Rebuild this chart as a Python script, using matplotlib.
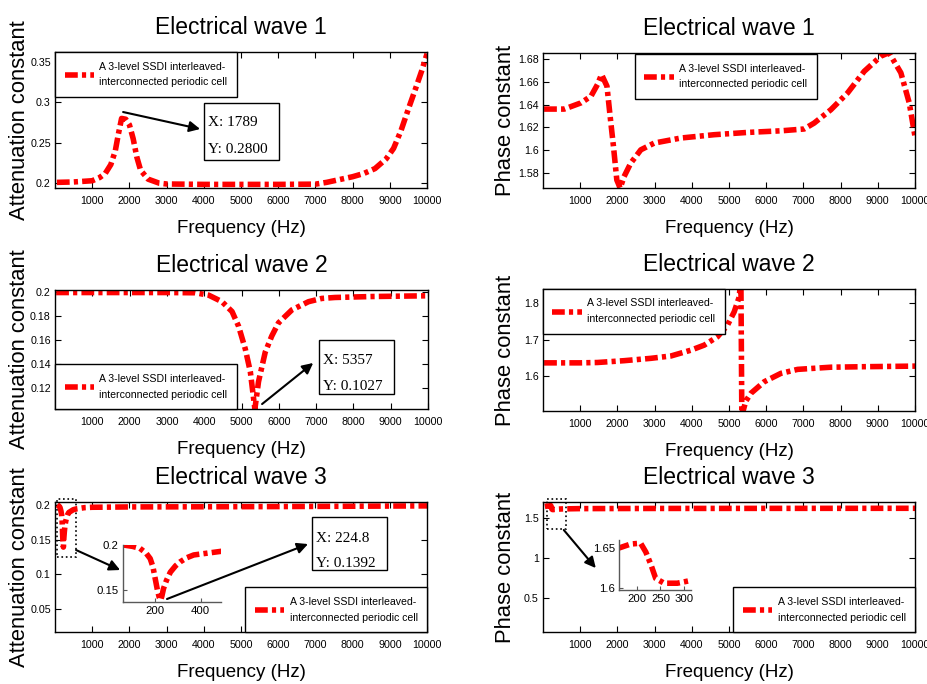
import matplotlib
matplotlib.use('Agg')
import matplotlib.pyplot as plt
from matplotlib.patches import Rectangle
from matplotlib.lines import Line2D
from matplotlib.ticker import FormatStrFormatter

# ---------------- data ----------------
freq_att1 = [50, 500, 1000, 1200, 1350, 1500, 1620, 1700, 1789, 1900, 2000, 2100, 2200, 2300,
             2500, 2800, 3000, 4000, 5000, 6000, 7000, 7300, 7600, 8000, 8300, 8600, 8900,
             9100, 9300, 9500, 9700, 9850, 10000]
att1 = [0.201, 0.2015, 0.203, 0.207, 0.212, 0.223, 0.240, 0.260, 0.280, 0.279, 0.272, 0.255,
        0.232, 0.216, 0.205, 0.200, 0.199, 0.1985, 0.1985, 0.1985, 0.1988, 0.201, 0.204, 0.208,
        0.212, 0.218, 0.230, 0.243, 0.265, 0.292, 0.318, 0.338, 0.360]

freq_ph1 = [30, 570, 1020, 1290, 1465, 1575, 1720, 1805, 1895, 1985, 2075, 2180, 2360, 2630,
            2990, 3705, 4600, 5500, 6395, 7020, 7290, 7740, 8185, 8635, 9085, 9300, 9620,
            9845, 10000]
ph1 = [1.636, 1.636, 1.6414, 1.6472, 1.6575, 1.6662, 1.656, 1.6297, 1.6033, 1.574, 1.567,
       1.577, 1.5888, 1.6004, 1.6063, 1.6107, 1.6136, 1.6156, 1.617, 1.6186, 1.6238, 1.6355,
       1.650, 1.669, 1.6823, 1.6853, 1.6677, 1.6414, 1.612]

freq_att2 = [30, 1000, 2000, 3000, 3760, 4120, 4475, 4745, 4920, 5100, 5235, 5357, 5455,
             5635, 5810, 5990, 6350, 6795, 7150, 7505, 8500, 10000]
att2 = [0.1995, 0.1995, 0.1995, 0.1995, 0.1993, 0.1973, 0.1919, 0.1837, 0.1715, 0.1526,
        0.1337, 0.1027, 0.1255, 0.150, 0.1634, 0.1743, 0.1851, 0.1919, 0.1946, 0.1954,
        0.1962, 0.1968]

freq_ph2 = [30, 500, 1000, 1465, 2180, 2900, 3440, 3975, 4335, 4690, 4960, 5140, 5275, 5320,
            5345, 5450, 5590, 5950, 6395, 6845, 7740, 8635, 10000]
ph2 = [1.636, 1.636, 1.636, 1.637, 1.642, 1.6485, 1.655, 1.671, 1.685, 1.708, 1.740, 1.777,
       1.818, 1.870, 1.490, 1.530, 1.552, 1.584, 1.607, 1.618, 1.624, 1.6254, 1.627]

freq_att3 = [60, 100, 133, 160, 178, 190, 200, 210, 218, 224.8, 230, 237, 250, 267, 290, 311,
             340, 370, 430, 490, 600, 800, 1000, 2000, 4000, 6000, 8000, 10000]
att3 = [0.2, 0.1985, 0.1963, 0.191, 0.185, 0.176, 0.163, 0.150, 0.142, 0.1392, 0.144, 0.152,
        0.161, 0.170, 0.177, 0.1815, 0.186, 0.189, 0.191, 0.193, 0.1945, 0.196, 0.1965, 0.197,
        0.1972, 0.1975, 0.198, 0.1985]

freq_ph3 = [50, 100, 162, 187, 208, 219, 230, 240, 258, 286, 311, 500, 1000, 3000, 6000, 10000]
ph3 = [1.645, 1.649, 1.650, 1.655, 1.656, 1.645, 1.629, 1.612, 1.606, 1.606, 1.609, 1.614,
       1.618, 1.620, 1.621, 1.622]

xticks_main = [1000, 2000, 3000, 4000, 5000, 6000, 7000, 8000, 9000, 10000]
legend_label = 'A 3-level SSDI interleaved-\ninterconnected periodic cell'
titles = ['Electrical wave 1', 'Electrical wave 2', 'Electrical wave 3']
xlabel = 'Frequency (Hz)'
ylabel_att = 'Attenuation constant'
ylabel_ph = 'Phase constant'
tip1 = ['X: 1789', 'Y: 0.2800']
tip2 = ['X: 5357', 'Y: 0.1027']
tip3 = ['X: 224.8', 'Y: 0.1392']

# ---------------- style ----------------
plt.rcParams['font.family'] = ['Liberation Sans', 'DejaVu Sans']
RED = '#ff0000'
LS = (0, (2.3, 0.75, 0.75, 0.75))
LW = 4.0

fig = plt.figure(figsize=(9.28, 6.84), dpi=100)

positions = {
    'tl': [0.0593, 0.7251, 0.4009, 0.1988],
    'tr': [0.5851, 0.7251, 0.4009, 0.1974],
    'ml': [0.0593, 0.4020, 0.4020, 0.1740],
    'mr': [0.5851, 0.3991, 0.4009, 0.1784],
    'bl': [0.0593, 0.0760, 0.4009, 0.1900],
    'br': [0.5851, 0.0760, 0.4009, 0.1900],
}


def make_ax(key, x, y, ylim, yticks, title, ylabel, leg_loc, leg_anchor, left_col):
    ax = fig.add_axes(positions[key])
    ax.plot(x, y, color=RED, lw=LW, ls=LS, solid_capstyle='butt')
    ax.set_xlim(0, 10000)
    ax.set_ylim(*ylim)
    ax.set_xticks(xticks_main)
    ax.set_yticks(yticks)
    ax.yaxis.set_major_formatter(FormatStrFormatter('%g'))
    ax.tick_params(direction='in', top=True, right=True, length=4, width=0.8,
                   labelsize=7.7, pad=3)
    ax.tick_params(axis='x', pad=6)
    for s in ax.spines.values():
        s.set_linewidth(1.0)
    ax.set_title(title, fontsize=16.5, pad=13)
    ax.set_xlabel(xlabel, fontsize=13.5, labelpad=10)
    ax.set_ylabel(ylabel, fontsize=15.8)
    ax.yaxis.set_label_coords(-0.068 if left_col else -0.072, 0.5)
    h = Line2D([], [], color=RED, lw=LW, ls=LS)
    leg = ax.legend([h], [legend_label], loc=leg_loc, bbox_to_anchor=leg_anchor,
                    fontsize=7.6, handlelength=2.8, handletextpad=0.5, borderpad=0.9,
                    borderaxespad=0, fancybox=False, framealpha=1, edgecolor='black')
    leg.get_frame().set_linewidth(1.0)
    for t in leg.get_texts():
        t.set_linespacing(1.7)
    return ax


def datatip(ax, box, textx, ys, lines):
    ax.add_patch(Rectangle((box[0], box[1]), box[2], box[3], transform=ax.transAxes,
                           fill=True, fc='white', ec='black', lw=1.0, zorder=5))
    for yy, t in zip(ys, lines):
        ax.text(textx, yy, t, transform=ax.transAxes, fontsize=11,
                family=['Liberation Serif', 'DejaVu Serif'], va='baseline', ha='left', zorder=6)


def arrow(ax, tail, head):
    ax.annotate('', xy=head, xytext=tail, xycoords='axes fraction', textcoords='axes fraction',
                arrowprops=dict(arrowstyle='-|>', color='black', lw=1.5, mutation_scale=16,
                                shrinkA=0, shrinkB=0), annotation_clip=False)


# top left
ax = make_ax('tl', freq_att1, att1, (0.194, 0.362), [0.2, 0.25, 0.3, 0.35], titles[0],
             ylabel_att, 'upper left', (0, 1), True)
arrow(ax, (0.183, 0.559), (0.390, 0.434))
datatip(ax, (0.4005, 0.206, 0.2016, 0.419), 0.411, [0.456, 0.257], tip1)

# top right
ax = make_ax('tr', freq_ph1, ph1, (1.567, 1.685), [1.58, 1.6, 1.62, 1.64, 1.66, 1.68], titles[0],
             ylabel_ph, 'upper left', (0.247, 0.99), False)

# middle left
ax = make_ax('ml', freq_att2, att2, (0.1027, 0.2016), [0.12, 0.14, 0.16, 0.18, 0.2], titles[1],
             ylabel_att, 'lower left', (0, 0), True)
arrow(ax, (0.555, 0.042), (0.692, 0.387))
datatip(ax, (0.708, 0.126, 0.201, 0.454), 0.718, [0.378, 0.160], tip2)

# middle right
ax = make_ax('mr', freq_ph2, ph2, (1.503, 1.84), [1.6, 1.7, 1.8], titles[1],
             ylabel_ph, 'upper left', (0, 1), False)

# bottom left
ax = make_ax('bl', freq_att3, att3, (0.017, 0.204), [0.05, 0.1, 0.15, 0.2], titles[2],
             ylabel_att, 'lower right', (1, 0), True)
ax.add_patch(Rectangle((0.0054, 0.577), 0.051, 0.446, transform=ax.transAxes, fill=False,
                       ec='black', lw=1.2, ls=':', clip_on=False))
arrow(ax, (0.0565, 0.631), (0.175, 0.477))
arrow(ax, (0.301, 0.254), (0.680, 0.677))
datatip(ax, (0.691, 0.477, 0.2016, 0.408), 0.702, [0.692, 0.500], tip3)

# bottom right
ax = make_ax('br', freq_ph3, ph3, (0.075, 1.70), [0.5, 1, 1.5], titles[2],
             ylabel_ph, 'lower right', (1, 0), False)
ax.add_patch(Rectangle((0.011, 0.792), 0.051, 0.231, transform=ax.transAxes, fill=False,
                       ec='black', lw=1.2, ls=':', clip_on=False))
arrow(ax, (0.056, 0.785), (0.142, 0.492))


def inset(rect, x, y, xlim, ylim, xt, yt):
    ia = fig.add_axes(rect)
    ia.plot(x, y, color=RED, lw=LW, ls=LS)
    ia.set_xlim(*xlim)
    ia.set_ylim(*ylim)
    ia.set_xticks(xt)
    ia.set_yticks(yt)
    ia.yaxis.set_major_formatter(FormatStrFormatter('%g'))
    ia.spines['top'].set_visible(False)
    ia.spines['right'].set_visible(False)
    for s in ('left', 'bottom'):
        ia.spines[s].set_color('0.35')
        ia.spines[s].set_linewidth(1.0)
    ia.patch.set_alpha(0)
    ia.tick_params(direction='in', length=3, labelsize=8.2, pad=3, color='0.35')
    return ia


inset([0.1325, 0.1199, 0.1056, 0.0833], freq_att3, att3, (58, 490), (0.137, 0.2),
      [200, 400], [0.15, 0.2])
inset([0.667, 0.1374, 0.0776, 0.0731], freq_ph3, ph3, (162, 315), (1.5975, 1.66),
      [200, 250, 300], [1.6, 1.65])

fig.savefig('out.png', dpi=100)
